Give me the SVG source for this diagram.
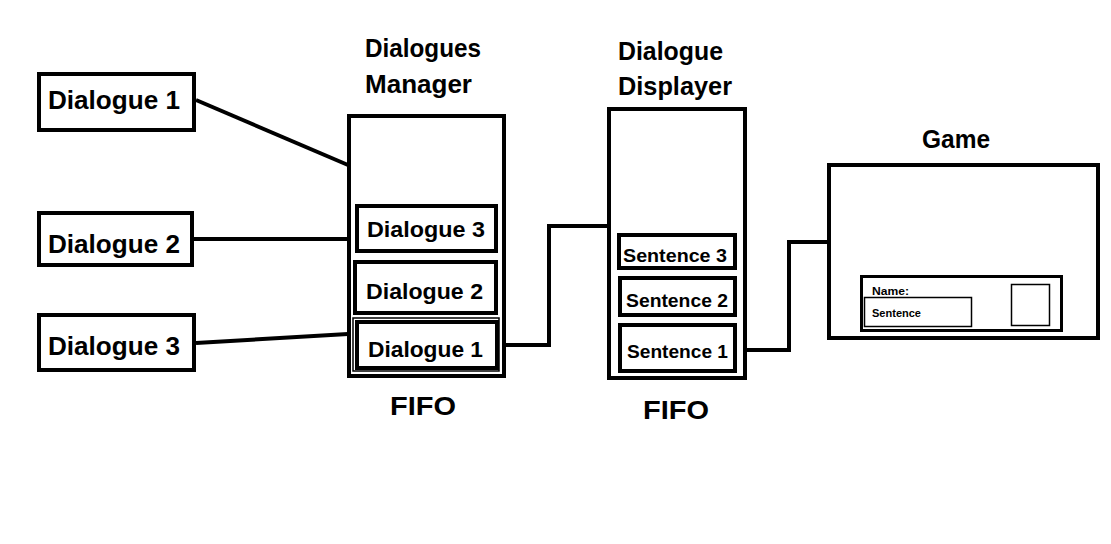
<svg xmlns="http://www.w3.org/2000/svg" width="1111" height="544" viewBox="0 0 1111 544">
<style>
.box{fill:#fff;stroke:#000;stroke-width:4}
.thin{fill:none;stroke:#000;stroke-width:1.5}
.conn{fill:none;stroke:#000;stroke-width:4;stroke-linejoin:miter}
text{font-family:"Comic Sans MS","Liberation Sans",sans-serif;font-weight:bold;fill:#000}
.big{font-size:26px}
.mid{font-size:22px}
.sm{font-size:19px}
</style>
<rect x="0" y="0" width="1111" height="544" fill="#fff"/>
<g id="connectors">
<polyline class="conn" points="196,100 348,165"/>
<polyline class="conn" points="194,239 348,239"/>
<polyline class="conn" points="196,343 348,334"/>
<polyline class="conn" points="499,345 549,345 549,226 608,226"/>
<polyline class="conn" points="737,350 789,350 789,242 829,242"/>
</g>
<g id="dialogue1">
<rect class="box" x="39" y="74" width="155" height="56"/>
<text class="big" x="48" y="109" textLength="132" lengthAdjust="spacingAndGlyphs">Dialogue 1</text>
</g>
<g id="dialogue2">
<rect class="box" x="39" y="213" width="153" height="52"/>
<text class="big" x="48" y="253" textLength="132" lengthAdjust="spacingAndGlyphs">Dialogue 2</text>
</g>
<g id="dialogue3">
<rect class="box" x="39" y="315" width="155" height="55"/>
<text class="big" x="48" y="355" textLength="132" lengthAdjust="spacingAndGlyphs">Dialogue 3</text>
</g>
<g id="manager">
<text class="big" x="365" y="57" textLength="116" lengthAdjust="spacingAndGlyphs">Dialogues</text>
<text class="big" x="365" y="93" textLength="107" lengthAdjust="spacingAndGlyphs">Manager</text>
<rect class="box" x="349" y="116" width="155" height="260"/>
<rect class="box" x="357" y="206" width="139" height="45"/>
<text class="mid" x="367" y="237" textLength="118" lengthAdjust="spacingAndGlyphs">Dialogue 3</text>
<rect class="box" x="355" y="262" width="141" height="51"/>
<text class="mid" x="366" y="299" textLength="117" lengthAdjust="spacingAndGlyphs">Dialogue 2</text>
<rect class="thin" x="353" y="318" width="146" height="53"/>
<rect class="box" x="357" y="322" width="140" height="46"/>
<text class="mid" x="368" y="357" textLength="115" lengthAdjust="spacingAndGlyphs">Dialogue 1</text>
<text class="big" x="390" y="415" textLength="66" lengthAdjust="spacingAndGlyphs">FIFO</text>
</g>
<g id="displayer">
<text class="big" x="618" y="60" textLength="105" lengthAdjust="spacingAndGlyphs">Dialogue</text>
<text class="big" x="618" y="95" textLength="114" lengthAdjust="spacingAndGlyphs">Displayer</text>
<rect class="box" x="609" y="109" width="136" height="269"/>
<rect class="box" x="619" y="235" width="116" height="33"/>
<text class="sm" x="623" y="262" textLength="104" lengthAdjust="spacingAndGlyphs">Sentence 3</text>
<rect class="box" x="620" y="278" width="115" height="37"/>
<text class="sm" x="626" y="307" textLength="102" lengthAdjust="spacingAndGlyphs">Sentence 2</text>
<rect class="box" x="620" y="325" width="115" height="46"/>
<text class="sm" x="627" y="358" textLength="101" lengthAdjust="spacingAndGlyphs">Sentence 1</text>
<text class="big" x="643" y="419" textLength="66" lengthAdjust="spacingAndGlyphs">FIFO</text>
</g>
<g id="game">
<text class="big" x="922" y="148" textLength="68" lengthAdjust="spacingAndGlyphs">Game</text>
<rect class="box" x="829" y="165" width="269" height="173"/>
<rect x="861.5" y="276.5" width="200" height="54" fill="#fff" stroke="#000" stroke-width="3"/>
<text x="872" y="295" font-size="11" textLength="37" lengthAdjust="spacingAndGlyphs">Name:</text>
<rect class="thin" x="864.5" y="297.5" width="107" height="29"/>
<text x="872" y="317" font-size="10" textLength="49" lengthAdjust="spacingAndGlyphs">Sentence</text>
<rect class="thin" x="1011.5" y="284.5" width="38" height="41"/>
</g>
</svg>
